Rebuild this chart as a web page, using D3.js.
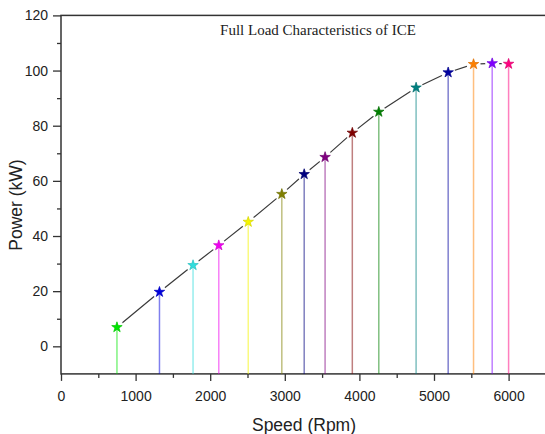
<!DOCTYPE html>
<html>
<head>
<meta charset="utf-8">
<script src="https://cdn.jsdelivr.net/npm/d3@7"></script>
<style>
  body { margin: 0; background: #fff; }
  svg { display: block; }
</style>
</head>
<body>
<div id="chart"></div>
<script>
// data
const speeds = [750, 1320, 1770, 2115, 2510, 2960, 3260, 3540, 3905, 4260, 4760, 5190, 5530, 5780, 6000];
const powers = [6.9, 19.7, 29.4, 36.6, 45.1, 55.2, 62.4, 68.6, 77.4, 85.0, 93.8, 99.3, 102.3, 102.6, 102.4];
const xTicks = [0, 1000, 2000, 3000, 4000, 5000, 6000];
const xMinor = [500, 1500, 2500, 3500, 4500, 5500, 6500];
const yTicks = [0, 20, 40, 60, 80, 100, 120];
const yMinor = [10, 30, 50, 70, 90, 110];

// origin-style colour cycle, starting at green
const colors = ["#00e600", "#0000dd", "#30dede", "#f000f0", "#f5f500", "#808000", "#000080",
                "#800080", "#800000", "#008000", "#008080", "#0000a0", "#ff8000", "#8000ff", "#ff0080"];

const width = 545, height = 434;
const svg = d3.select("#chart").append("svg")
    .attr("width", width)
    .attr("height", height);

const x = d3.scaleLinear().domain([0, 7000]).range([61, 583.2]);
const y = d3.scaleLinear().domain([-10, 120]).range([373.9, 15.4]);

const axisColor = "#333";
const font = "'Liberation Sans', Arial, sans-serif";

// plot frame
svg.append("rect")
    .attr("x", x(0)).attr("y", y(120))
    .attr("width", x(7000) - x(0)).attr("height", y(-10) - y(120))
    .attr("fill", "none").attr("stroke", axisColor).attr("stroke-width", 1.5);

// minor ticks
svg.append("g")
    .attr("transform", `translate(0,${y(-10)})`)
    .call(d3.axisBottom(x).tickValues(xMinor).tickSize(4).tickFormat(""))
    .call(g => g.select(".domain").remove())
    .call(g => g.selectAll("line").attr("stroke", axisColor).attr("stroke-width", 1.3));
svg.append("g")
    .attr("transform", `translate(${x(0)},0)`)
    .call(d3.axisLeft(y).tickValues(yMinor).tickSize(4).tickFormat(""))
    .call(g => g.select(".domain").remove())
    .call(g => g.selectAll("line").attr("stroke", axisColor).attr("stroke-width", 1.3));

// major ticks
svg.append("g")
    .attr("transform", `translate(0,${y(-10)})`)
    .call(d3.axisBottom(x).tickValues(xTicks).tickSize(7).tickPadding(10).tickFormat(d3.format("d")))
    .call(g => g.select(".domain").remove())
    .call(g => g.selectAll("line").attr("stroke", axisColor).attr("stroke-width", 1.3))
    .call(g => g.selectAll("text").attr("fill", "#222").style("font-family", font).style("font-size", "14px"));
svg.append("g")
    .attr("transform", `translate(${x(0)},0)`)
    .call(d3.axisLeft(y).tickValues(yTicks).tickSize(8).tickPadding(5))
    .call(g => g.select(".domain").remove())
    .call(g => g.selectAll("line").attr("stroke", axisColor).attr("stroke-width", 1.3))
    .call(g => g.selectAll("text").attr("fill", "#222").style("font-family", font).style("font-size", "14px"));

// connecting line
const line = d3.line()
    .x((d, i) => x(speeds[i]))
    .y(d => y(d));
svg.append("path")
    .datum(powers)
    .attr("fill", "none")
    .attr("stroke", "#3a3a3a")
    .attr("stroke-width", 1.2)
    .attr("d", line);

// gaps in the line round each symbol
svg.append("g").selectAll("circle")
    .data(powers)
    .join("circle")
    .attr("cx", (d, i) => x(speeds[i]))
    .attr("cy", d => y(d))
    .attr("r", 7)
    .attr("fill", "#fff");

// drop lines
svg.append("g").selectAll("line")
    .data(powers)
    .join("line")
    .attr("x1", (d, i) => x(speeds[i]))
    .attr("x2", (d, i) => x(speeds[i]))
    .attr("y1", d => y(d))
    .attr("y2", y(-10))
    .attr("stroke", (d, i) => colors[i])
    .attr("stroke-opacity", 0.5)
    .attr("stroke-width", 1.5);

// star symbols
const star = d3.symbol().type(d3.symbolStar).size(34);
svg.append("g").selectAll("path")
    .data(powers)
    .join("path")
    .attr("transform", (d, i) => `translate(${x(speeds[i])},${y(d)})`)
    .attr("d", star)
    .attr("fill", (d, i) => colors[i])
    .attr("stroke", (d, i) => d3.color(colors[i]).darker(0.4))
    .attr("stroke-width", 0.7);

// title and axis labels
svg.append("text")
    .attr("x", 318).attr("y", 35)
    .attr("text-anchor", "middle")
    .style("font-family", "'Liberation Serif', 'Times New Roman', serif")
    .style("font-size", "15px")
    .attr("fill", "#222")
    .text("Full Load Characteristics of ICE");

svg.append("text")
    .attr("x", 304).attr("y", 431)
    .attr("text-anchor", "middle")
    .style("font-family", font)
    .style("font-size", "17.5px")
    .attr("fill", "#222")
    .text("Speed (Rpm)");

svg.append("text")
    .attr("transform", "translate(22,205) rotate(-90)")
    .attr("text-anchor", "middle")
    .style("font-family", font)
    .style("font-size", "17.5px")
    .attr("fill", "#222")
    .text("Power (kW)");
</script>
</body>
</html>
